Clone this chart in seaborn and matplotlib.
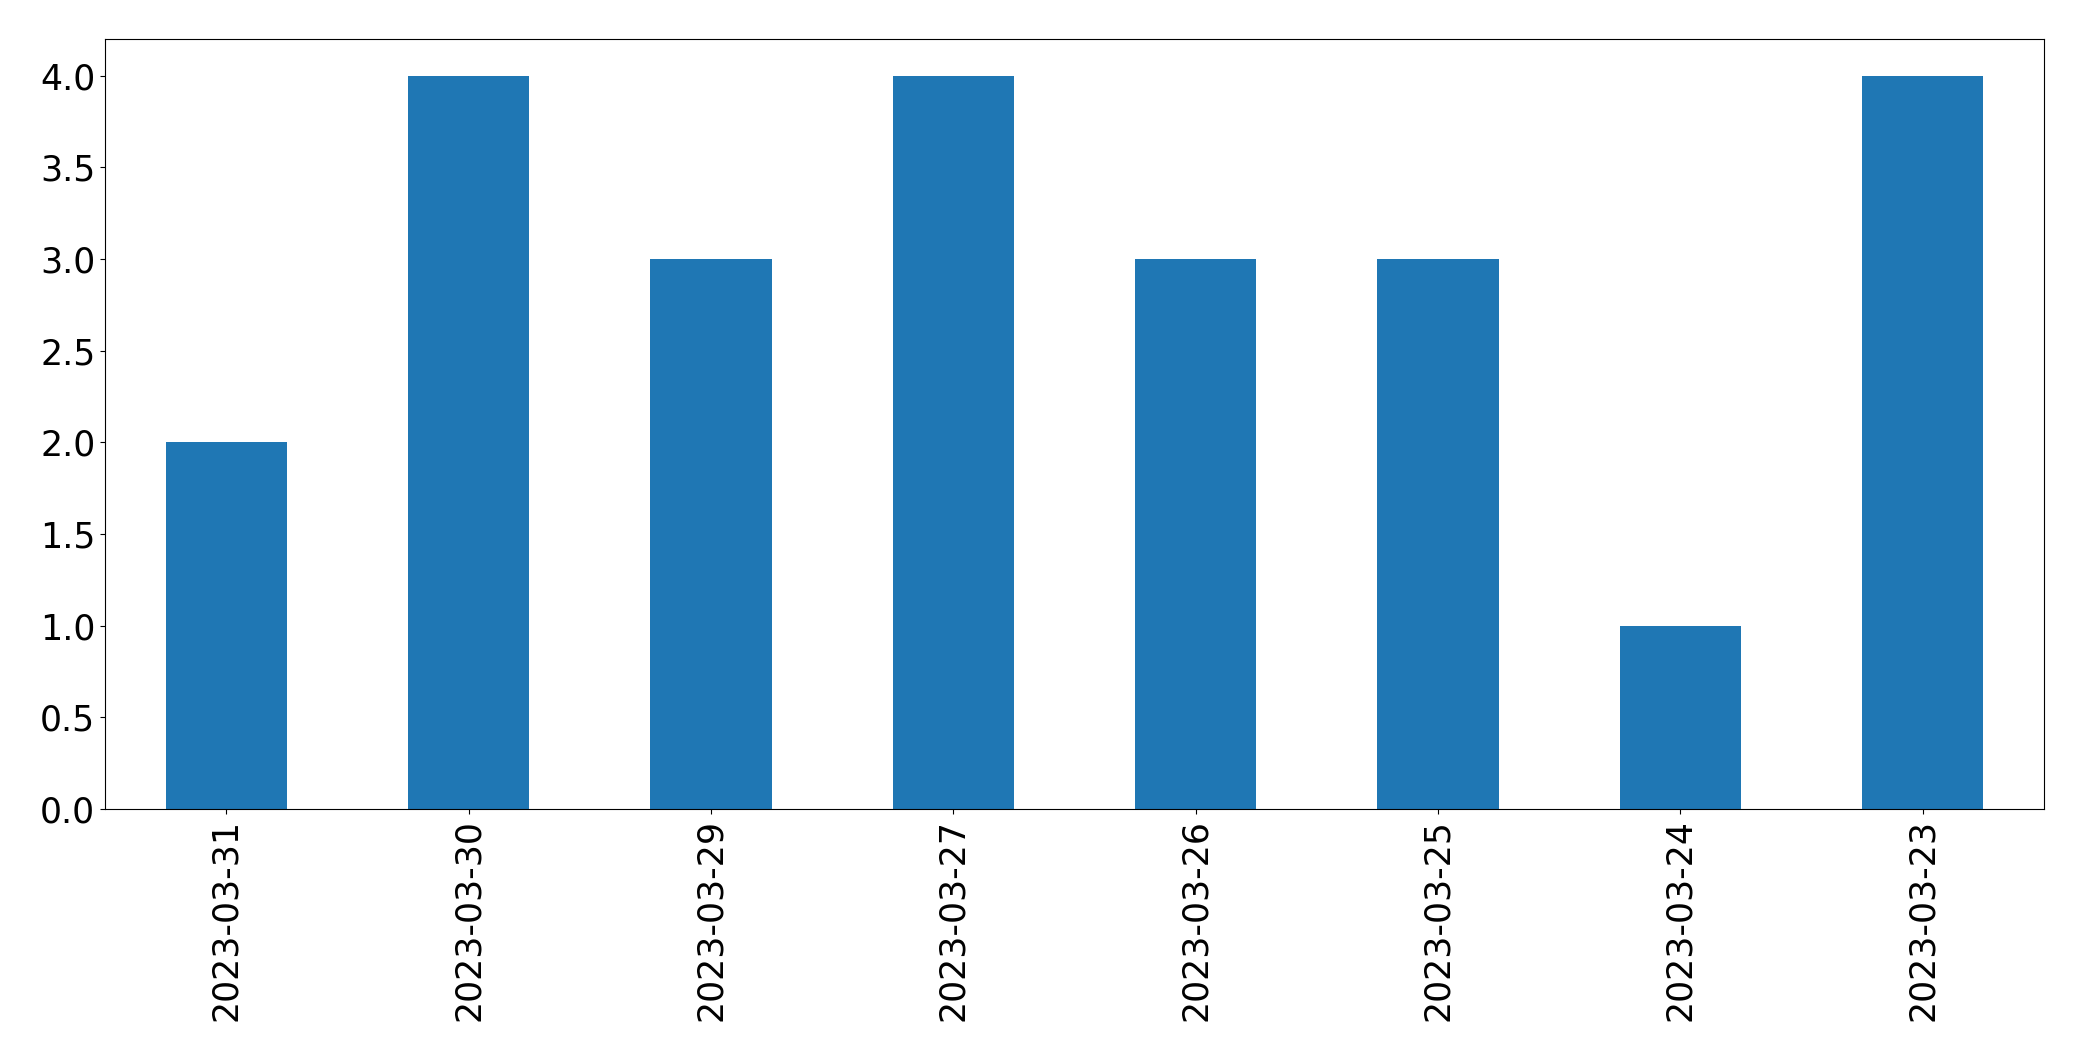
import numpy as np
import pandas as pd
import matplotlib
matplotlib.use("Agg")
import matplotlib.pyplot as plt
import seaborn as sns

dates = ["2023-03-31", "2023-03-30", "2023-03-29", "2023-03-27",
         "2023-03-26", "2023-03-25", "2023-03-24", "2023-03-23"]
counts = [2, 4, 3, 4, 3, 3, 1, 4]

df = pd.DataFrame({"date": dates, "count": counts})

W, H = 2082, 1061
fig, ax = plt.subplots(figsize=(W / 100, H / 100), dpi=100)
fig.subplots_adjust(left=105 / W, right=2044 / W, top=1 - 39 / H, bottom=1 - 809 / H)

sns.barplot(data=df, x="date", y="count", order=dates, color="#1f77b4",
            saturation=1, width=0.5, linewidth=0, ax=ax)

ax.set_xlim(-0.5, len(dates) - 0.5)
ax.set_ylim(0, 4.2)
ax.set_yticks(np.arange(0, 4.01, 0.5))
ax.set_xlabel("")
ax.set_ylabel("")
ax.tick_params(axis="both", labelsize=25)
plt.setp(ax.get_xticklabels(), rotation=90)
for s in ax.spines.values():
    s.set_color("black")

fig.savefig("out.png", dpi=100)
